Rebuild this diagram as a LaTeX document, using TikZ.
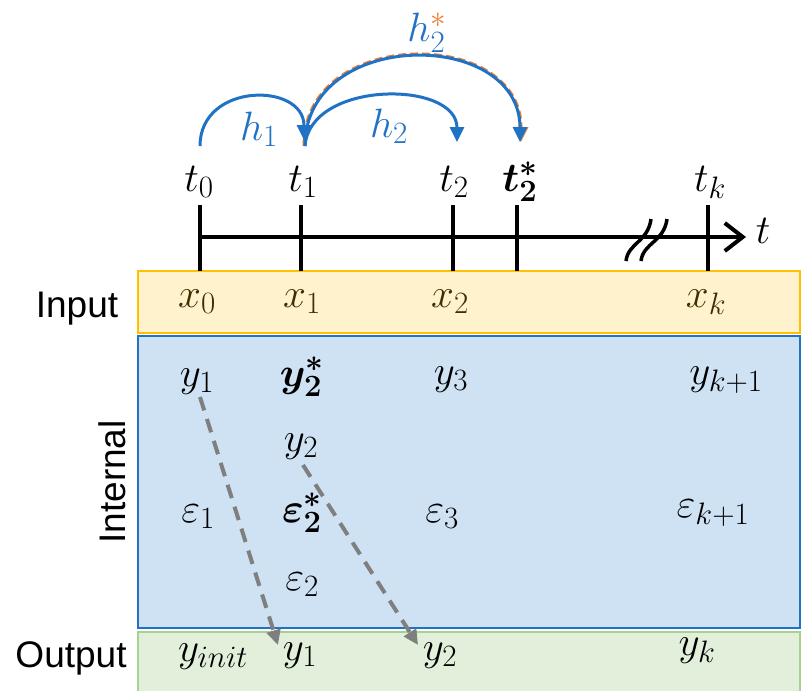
\RequirePackage{fix-cm}
\documentclass[tikz,border=0pt]{standalone}
\usepackage{amsmath}
\usepackage{bm}
\usepackage[no-math]{fontspec}
\setmainfont{Liberation Sans}
\usetikzlibrary{arrows.meta}
\DeclareMathSizes{41}{41}{31}{23}
\definecolor{hblue}{HTML}{1F72C4}
\definecolor{horange}{HTML}{ED7D31}
\definecolor{inf}{HTML}{FFF2CC}
\definecolor{inb}{HTML}{FFC000}
\definecolor{itf}{HTML}{CFE2F3}
\definecolor{itb}{HTML}{1F72C4}
\definecolor{otf}{HTML}{E2EFDA}
\definecolor{otb}{HTML}{A9D18E}
\definecolor{xcol}{HTML}{3D3000}
\definecolor{dgray}{HTML}{7F7F7F}
\begin{document}
\begin{tikzpicture}[x=1pt,y=-1pt,
  lbl/.style={font=\fontsize{37}{40}\selectfont, inner sep=0pt, anchor=base},
  mth/.style={font=\fontsize{41}{44}\selectfont, inner sep=0pt, anchor=base},
  band/.style={line width=2pt},
  tick/.style={line width=4pt, black},
  harc/.style={hblue, line width=3pt, -{Triangle[length=15pt,width=14pt]}},
  dsh/.style={dgray, line width=4pt, dash pattern=on 14pt off 9pt, -{Triangle[length=15pt,width=14pt]}}]
\useasboundingbox (0,0) rectangle (802,690);

% bands
\draw[band, draw=inb, fill=inf] (138,271) rectangle (800,333);
\draw[band, draw=itb, fill=itf] (138,336) rectangle (800,628);
\draw[band, draw=otb, fill=otf] (138,632) rectangle (800,694);

% side labels
\node[lbl] (inp) at (77,317) {Input};
\node[lbl] (outp) at (71,667) {Output};
\node[lbl, rotate=90, anchor=center] (intl) at (112,482) {Internal};

% timeline
\coordinate (ts) at (198,237);
\coordinate (te) at (746,237);
\draw[tick, -{Straight Barb[length=18pt,width=28pt]}] (ts) -- (te);
\foreach \xx/\nm in {200/k0, 301/k1, 453/k2, 517/k2s, 708/kk} {
  \coordinate (\nm top) at (\xx,205);
  \coordinate (\nm bot) at (\xx,271);
  \draw[tick] (\nm top) -- (\nm bot);
}
% break marks
\draw[line width=3.5pt] (626,261) .. controls (628,243) and (648,242) .. (651,219);
\draw[line width=3.5pt] (641,261) .. controls (643,243) and (664,242) .. (667,219);

% time labels
\node[mth] (t0) at (199,191) {$t_0$};
\node[mth] (t1) at (303,191) {$t_1$};
\node[mth] (t2) at (454,191) {$t_2$};
\node[mth] (t2s) at (520,191) {$\bm{t_2^*}$};
\node[mth] (tk) at (710,191) {$t_k$};
\node[mth] (tl) at (763,243) {$t$};

% arcs
\coordinate (a0) at (200,146);
\coordinate (a1) at (305,146);
\coordinate (a1e) at (304,140);
\coordinate (a2e) at (457,142);
\coordinate (a2se) at (520,142);
\draw[horange, line width=3pt, dash pattern=on 8pt off 4pt, -{Triangle[length=15pt,width=14pt]}]
  (304,146) .. controls (303,26.5) and (521.5,26.5) .. (521,142);
\draw[harc] (a0) .. controls (200,82) and (304,82) .. (a1e);
\draw[harc] (a1) .. controls (310,80) and (457,80) .. (a2e);
\draw[harc] (a1) .. controls (305,28) and (520,28) .. (a2se);
\node[mth, text=hblue] (h1) at (259,140) {$h_1$};
\node[mth, text=hblue] (h2) at (389,137) {$h_2$};
\node[mth, text=hblue] (h2s) at (427,42) {$h_{2}^{\textcolor{horange}{*}}$};

% input row
\node[mth, text=xcol] (x0) at (197,307) {$x_0$};
\node[mth, text=xcol] (x1) at (302,307) {$x_1$};
\node[mth, text=xcol] (x2) at (450,307) {$x_2$};
\node[mth, text=xcol] (xk) at (706,307) {$x_k$};

% internal
\node[mth] (y1) at (197,386) {$y_1$};
\node[mth] (y2s) at (302,386) {$\bm{y_2^*}$};
\node[mth] (y3) at (451,384) {$y_3$};
\node[mth] (yk1) at (726,384) {$y_{k+1}$};
\node[mth] (y2) at (301,451) {$y_2$};
\node[mth] (e1) at (198,522) {$\varepsilon_1$};
\node[mth] (e2s) at (302,522) {$\bm{\varepsilon_2^*}$};
\node[mth] (e3) at (442,522) {$\varepsilon_3$};
\node[mth] (ek1) at (713,517) {$\varepsilon_{k+1}$};
\node[mth] (e2) at (302,590) {$\varepsilon_2$};

% output
\node[mth] (yi) at (213,661) {$y_{init}$};
\node[mth] (yo1) at (300,660) {$y_1$};
\node[mth] (yo2) at (440,660) {$y_2$};
\node[mth] (yok) at (697,655) {$y_k$};

% dashed arrows
\coordinate (d1s) at (200,397);
\coordinate (d1e) at (278,645);
\coordinate (d2s) at (303,465);
\coordinate (d2e) at (418,645);
\draw[dsh] (d1s) -- (d1e);
\draw[dsh] (d2s) -- (d2e);
\end{tikzpicture}
\end{document}
